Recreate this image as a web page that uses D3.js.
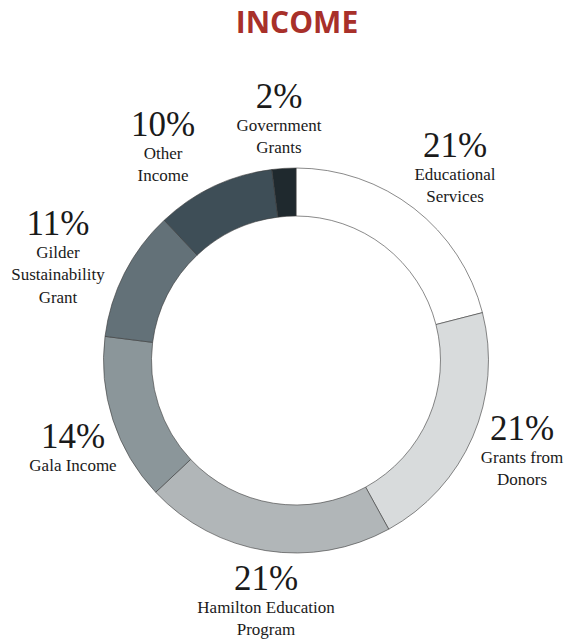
<!DOCTYPE html>
<html>
<head>
<meta charset="utf-8">
<script src="https://cdn.jsdelivr.net/npm/d3@7"></script>
<style>
  body { margin: 0; background: #fff; }
  .lbl { font-family: "Liberation Serif", "Times New Roman", Tinos, "DejaVu Serif", "Noto Serif", serif; }
</style>
</head>
<body>
<svg></svg>
<script>
// размеры
const width = 569;
const height = 641;

// данные
const categories = ["Educational Services", "Grants from Donors", "Hamilton Education Program", "Gala Income", "Gilder Sustainability Grant", "Other Income", "Government Grants"];
const values = [21, 21, 21, 14, 11, 10, 2];
const colors = ["#ffffff", "#d8dbdc", "#b1b6b8", "#8b969a", "#637178", "#3e4e57", "#1f292e"];
// строки подписей (перенос вручную, как на картинке)
const labelLines = [
    ["Educational", "Services"],
    ["Grants from", "Donors"],
    ["Hamilton Education", "Program"],
    ["Gala Income"],
    ["Gilder", "Sustainability", "Grant"],
    ["Other", "Income"],
    ["Government", "Grants"]
];
// положение подписей
const labelPos = [
    { x: 455, y: 157 },
    { x: 522, y: 440 },
    { x: 266, y: 590 },
    { x: 73, y: 448 },
    { x: 58, y: 235 },
    { x: 163, y: 136 },
    { x: 279, y: 108 }
];

let svg = d3.select("svg")
    .attr("width", width)
    .attr("height", height);

// заголовок
svg.append("text")
    .attr("x", 297).attr("y", 33)
    .attr("text-anchor", "middle")
    .style("font-family", "'Open Sans', sans-serif")
    .style("font-weight", 700)
    .style("font-size", "30px")
    .style("fill", "#a8302a")
    .text("INCOME");

// кольцо
const cx = 296, cy = 360.5;
const pie = d3.pie().sort(null).value(d => d)(values);
const arc = d3.arc().innerRadius(144.5).outerRadius(192.5);

let ring = svg.append("g").attr("transform", `translate(${cx},${cy})`);
ring.selectAll("path")
    .data(pie)
    .join("path")
    .attr("d", arc)
    .style("fill", (d, i) => colors[i])
    .style("stroke", "#3a3a3a")
    .style("stroke-width", 0.6);

// подписи
let labels = svg.append("g")
    .attr("class", "lbl")
    .style("fill", "#1a1a1a")
    .attr("text-anchor", "middle");

values.forEach((v, i) => {
    let g = labels.append("g").attr("transform", `translate(${labelPos[i].x},${labelPos[i].y})`);
    g.append("text").attr("class", "lbl").style("font-size", "35px").text(v + "%");
    labelLines[i].forEach((line, j) => {
        g.append("text")
            .attr("class", "lbl")
            .attr("y", 22.5 * (j + 1))
            .style("font-size", "17px")
            .text(line);
    });
});
</script>
</body>
</html>
